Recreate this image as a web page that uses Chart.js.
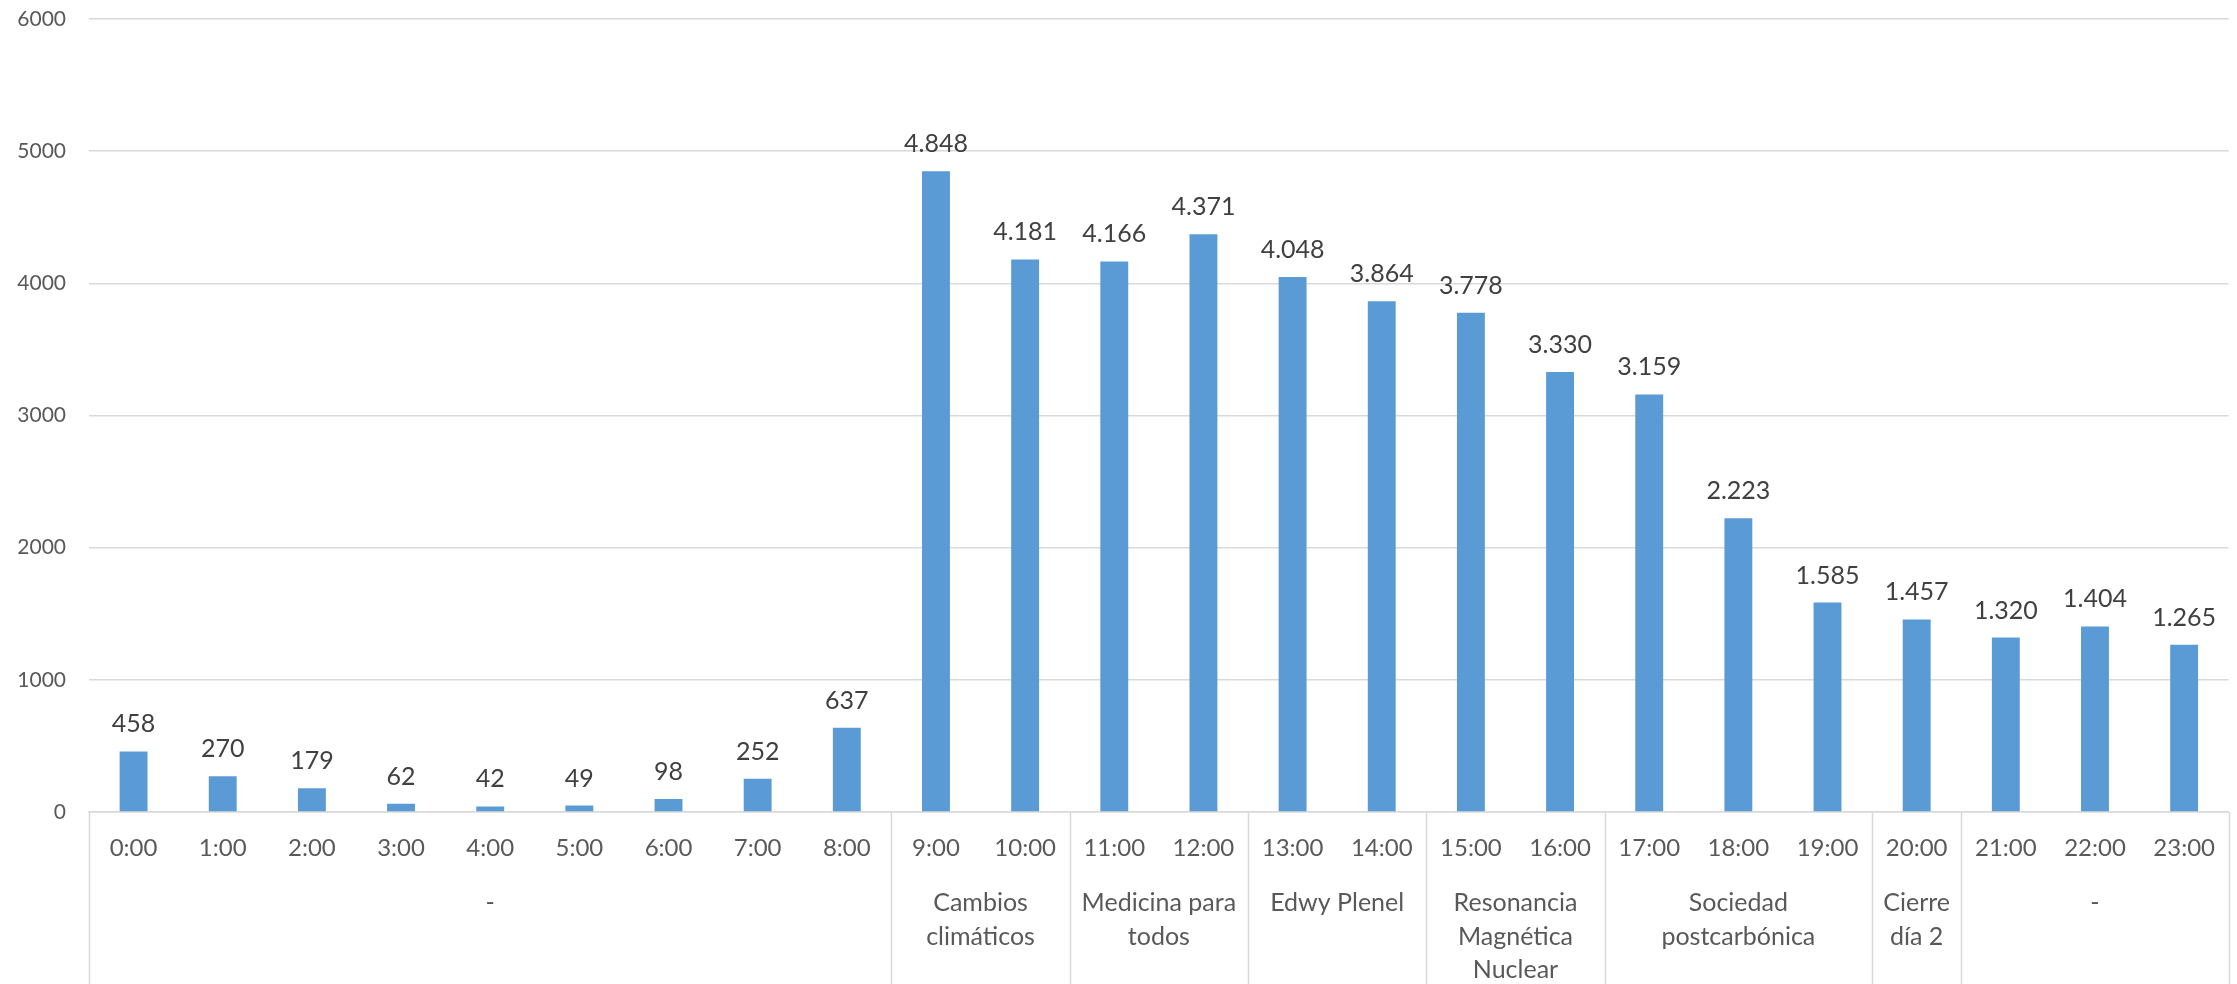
<!DOCTYPE html>
<html lang="es">
<head>
<meta charset="utf-8">
<title>Visitas por hora</title>
<script src="https://cdn.jsdelivr.net/npm/chart.js@4.4.1/dist/chart.umd.min.js"></script>
<style>
  html, body { margin: 0; padding: 0; background: #fff; }
  canvas { display: block; }
</style>
</head>
<body>
<canvas id="chart" width="2237" height="984"></canvas>
<script>
// ---------------------------------------------------------------------
// Data
// ---------------------------------------------------------------------
const HOURS = [
  "0:00", "1:00", "2:00", "3:00", "4:00", "5:00", "6:00", "7:00", "8:00",
  "9:00", "10:00", "11:00", "12:00", "13:00", "14:00", "15:00", "16:00",
  "17:00", "18:00", "19:00", "20:00", "21:00", "22:00", "23:00",
];
const VISITS = [
  458, 270, 179, 62, 42, 49, 98, 252, 637,
  4848, 4181, 4166, 4371, 4048, 3864, 3778, 3330,
  3159, 2223, 1585, 1457, 1320, 1404, 1265,
];
// second level of the category axis: session name (one entry per line)
const SESSION_NAMES = [
  ["-"],
  ["Cambios", "climáticos"],
  ["Medicina para", "todos"],
  ["Edwy Plenel"],
  ["Resonancia", "Magnética", "Nuclear"],
  ["Sociedad", "postcarbónica"],
  ["Cierre", "día 2"],
  ["-"],
];
// how many hours each session covers
const SESSION_SIZES = [9, 2, 2, 2, 2, 3, 1, 3];
const Y_MIN = 0;
const Y_MAX = 6000;
const Y_STEP = 1000;

// ---------------------------------------------------------------------
// Styles
// ---------------------------------------------------------------------
const FONT = "Lato, 'Open Sans', sans-serif";
const BAR_COLOR = "#5B9BD5";
const GRID_COLOR = "#D9D9D9";
const AXIS_TEXT = "#595959";
const LABEL_TEXT = "#404040";

// 4848 -> "4.848"
function fmtThousands(v) {
  return String(v).replace(/\B(?=(\d{3})+(?!\d))/g, ".");
}

// value labels above each bar
const valueLabels = {
  id: "valueLabels",
  afterDatasetsDraw(chart) {
    const { ctx } = chart;
    const meta = chart.getDatasetMeta(0);
    ctx.save();
    ctx.font = `25px ${FONT}`;
    ctx.fillStyle = LABEL_TEXT;
    ctx.textAlign = "center";
    ctx.textBaseline = "alphabetic";
    meta.data.forEach((bar, i) => {
      ctx.fillText(fmtThousands(VISITS[i]), bar.x, bar.y - 19);
    });
    ctx.restore();
  },
};

// session separators + session names under the hour labels
const sessionAxis = {
  id: "sessionAxis",
  afterDraw(chart) {
    const { ctx, chartArea } = chart;
    const x = chart.scales.x;
    const step = (x.right - x.left) / HOURS.length;
    const edge = (k) => x.left + k * step;
    const bottom = chart.height;

    ctx.save();
    ctx.strokeStyle = GRID_COLOR;
    ctx.lineWidth = 1.5;

    let k = 0;
    const bounds = [0];
    SESSION_SIZES.forEach((n) => { k += n; bounds.push(k); });
    bounds.forEach((b) => {
      const px = Math.min(Math.round(edge(b)) + 0.5, chart.width - 1);
      ctx.beginPath();
      ctx.moveTo(px, chartArea.bottom);
      ctx.lineTo(px, bottom);
      ctx.stroke();
    });

    ctx.font = `25px ${FONT}`;
    ctx.fillStyle = AXIS_TEXT;
    ctx.textAlign = "center";
    ctx.textBaseline = "middle";
    SESSION_NAMES.forEach((lines, i) => {
      const cx = (edge(bounds[i]) + edge(bounds[i + 1])) / 2;
      lines.forEach((line, j) => {
        ctx.fillText(line, cx, 903 + j * 33.5);
      });
    });
    ctx.restore();
  },
};

new Chart(document.getElementById("chart"), {
  type: "bar",
  data: {
    labels: HOURS,
    datasets: [{
      data: VISITS,
      backgroundColor: BAR_COLOR,
      borderWidth: 0,
      categoryPercentage: 1,
      barPercentage: 0.313,
    }],
  },
  options: {
    responsive: false,
    animation: false,
    layout: { padding: { top: 19, right: 1, left: 0, bottom: 0 } },
    plugins: {
      legend: { display: false },
      tooltip: { enabled: false },
    },
    scales: {
      x: {
        offset: true,
        grid: { display: false, drawTicks: false },
        border: { display: true, color: GRID_COLOR, width: 1.5 },
        ticks: {
          autoSkip: false,
          maxRotation: 0,
          minRotation: 0,
          padding: 22,
          color: AXIS_TEXT,
          font: { family: FONT, size: 24 },
        },
        afterFit(scale) { scale.height = 172; },
      },
      y: {
        min: Y_MIN,
        max: Y_MAX,
        ticks: {
          stepSize: Y_STEP,
          padding: 23,
          color: AXIS_TEXT,
          font: { family: FONT, size: 21 },
          callback: (v) => String(v),
        },
        grid: { color: GRID_COLOR, lineWidth: 1.5, drawTicks: false },
        border: { display: false },
        afterFit(scale) {
          scale.width = 89;
          // the layout padding alone decides the plot top
          scale.paddingTop = 0;
          scale.paddingBottom = 0;
        },
      },
    },
  },
  plugins: [valueLabels, sessionAxis],
});
</script>
</body>
</html>
